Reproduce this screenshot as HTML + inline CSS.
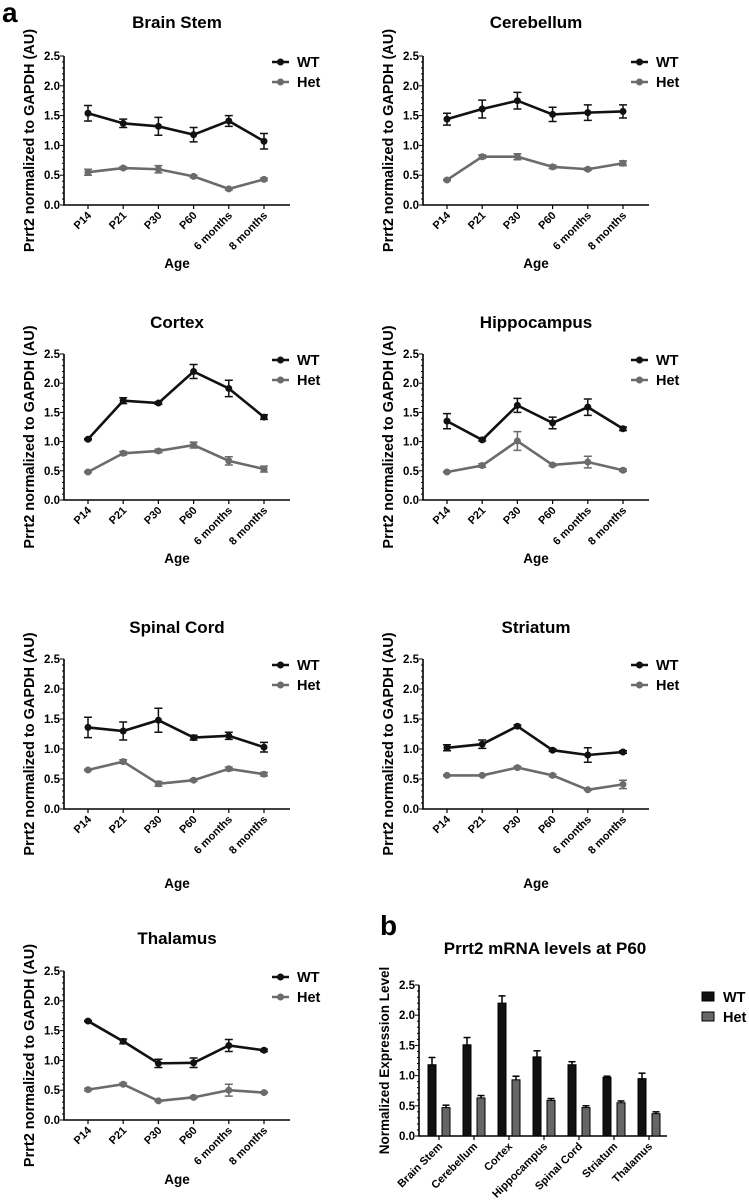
<!DOCTYPE html>
<html><head><meta charset="utf-8"><style>
body{margin:0;background:#fff;}
svg{display:block;font-family:"Liberation Sans",Arial,sans-serif;font-weight:bold;}
</style></head><body>
<svg id="fig" width="749" height="1204" viewBox="0 0 749 1204" xmlns="http://www.w3.org/2000/svg">
<text x="2" y="22" font-size="28">a</text>
<text x="380" y="935" font-size="28">b</text>
</svg>
<script>
const ages = ["P14","P21","P30","P60","6 months","8 months"];
const yTicks = [0,0.5,1.0,1.5,2.0,2.5];
const yTickLabels = ["0.0","0.5","1.0","1.5","2.0","2.5"];
const regionNames = ["Brain Stem","Cerebellum","Cortex","Hippocampus","Spinal Cord","Striatum","Thalamus"];
const wtBrainStem = [1.54,1.37,1.32,1.18,1.41,1.07];
const wtBrainStemErr = [0.13,0.07,0.15,0.12,0.09,0.13];
const hetBrainStem = [0.55,0.62,0.60,0.48,0.27,0.43];
const hetBrainStemErr = [0.05,0.02,0.06,0.02,0.02,0.02];
const wtCerebellum = [1.44,1.61,1.75,1.52,1.55,1.57];
const wtCerebellumErr = [0.10,0.15,0.14,0.12,0.13,0.11];
const hetCerebellum = [0.42,0.81,0.81,0.64,0.60,0.70];
const hetCerebellumErr = [0.01,0.03,0.05,0.03,0.02,0.04];
const wtCortex = [1.04,1.70,1.66,2.20,1.91,1.42];
const wtCortexErr = [0.01,0.05,0.02,0.12,0.14,0.04];
const hetCortex = [0.48,0.80,0.84,0.94,0.67,0.53];
const hetCortexErr = [0.01,0.03,0.03,0.05,0.07,0.05];
const wtHippocampus = [1.35,1.03,1.62,1.32,1.59,1.22];
const wtHippocampusErr = [0.13,0.02,0.12,0.10,0.14,0.03];
const hetHippocampus = [0.48,0.59,1.01,0.60,0.65,0.51];
const hetHippocampusErr = [0.01,0.03,0.16,0.02,0.10,0.02];
const wtSpinalCord = [1.36,1.30,1.48,1.19,1.22,1.03];
const wtSpinalCordErr = [0.17,0.15,0.20,0.04,0.06,0.08];
const hetSpinalCord = [0.65,0.79,0.42,0.48,0.67,0.58];
const hetSpinalCordErr = [0.01,0.03,0.04,0.02,0.03,0.03];
const wtStriatum = [1.02,1.08,1.38,0.98,0.90,0.95];
const wtStriatumErr = [0.05,0.07,0.02,0.02,0.12,0.02];
const hetStriatum = [0.56,0.56,0.69,0.56,0.32,0.41];
const hetStriatumErr = [0.01,0.01,0.02,0.02,0.01,0.07];
const wtThalamus = [1.66,1.32,0.95,0.96,1.25,1.17];
const wtThalamusErr = [0.01,0.04,0.07,0.08,0.10,0.02];
const hetThalamus = [0.51,0.60,0.32,0.38,0.50,0.46];
const hetThalamusErr = [0.02,0.02,0.01,0.02,0.10,0.01];
const barWT = [1.18,1.51,2.20,1.31,1.18,0.97,0.95];
const barWTErr = [0.12,0.12,0.12,0.10,0.05,0.02,0.09];
const barHet = [0.47,0.63,0.93,0.59,0.47,0.55,0.37];
const barHetErr = [0.04,0.04,0.06,0.03,0.03,0.03,0.03];

const svg = document.getElementById('fig');
const NS = "http://www.w3.org/2000/svg";
function mk(tag, attrs, parent){
  const e = document.createElementNS(NS, tag);
  for (const k in attrs) e.setAttribute(k, attrs[k]);
  (parent||svg).appendChild(e);
  return e;
}
const WT = "#111", HET = "#6b6b6b";

const panelWT = [wtBrainStem,wtCerebellum,wtCortex,wtHippocampus,wtSpinalCord,wtStriatum,wtThalamus];
const panelWTErr = [wtBrainStemErr,wtCerebellumErr,wtCortexErr,wtHippocampusErr,wtSpinalCordErr,wtStriatumErr,wtThalamusErr];
const panelHet = [hetBrainStem,hetCerebellum,hetCortex,hetHippocampus,hetSpinalCord,hetStriatum,hetThalamus];
const panelHetErr = [hetBrainStemErr,hetCerebellumErr,hetCortexErr,hetHippocampusErr,hetSpinalCordErr,hetStriatumErr,hetThalamusErr];
const rows = [{top:56,bot:205,age:268,title:28},{top:354,bot:500,age:563,title:328},{top:659,bot:809,age:888,title:633},{top:971,bot:1120,age:1184,title:944}];

function linePanel(i){
  const r = rows[Math.floor(i/2)];
  const off = (i%2)*359;
  const ax = 64+off, axEnd = 290+off, x0 = 88+off, dx = 35.2;
  const g = mk('g',{});
  const slug = regionNames[i].toLowerCase().replace(/ /g,'-');
  
  
  const ys = v => r.bot - v/2.5*(r.bot-r.top);
  const xs = k => x0 + k*dx;
  const t = mk('text',{x:(ax+axEnd)/2,y:r.title,'font-size':17,'text-anchor':'middle'},g);
  t.textContent = regionNames[i];
  
  
  const yl = mk('text',{x:0,y:0,'font-size':14.5,'text-anchor':'middle',transform:`translate(${ax-30},${(r.top+r.bot)/2+10}) rotate(-90)`},g);
  yl.textContent = "Prrt2 normalized to GAPDH (AU)";
  
  
  const al = mk('text',{x:(ax+axEnd)/2,y:r.age,'font-size':13.5,'text-anchor':'middle'},g);
  al.textContent = "Age";
  
  
  const axes = mk('path',{d:`M${ax},${r.top} V${r.bot} H${axEnd}`,stroke:'#000','stroke-width':1.6,fill:'none'},g);
  
  
  for (let v=0; v<=2.5001; v+=0.1){
    const major = Math.abs(v*2-Math.round(v*2))<1e-6;
    mk('line',{x1:ax-(major?4:2),x2:ax,y1:ys(v),y2:ys(v),stroke:'#000','stroke-width':1},g);
  }
  yTicks.forEach((v,k)=>{
    const tl = mk('text',{x:ax-4,y:ys(v)+4,'font-size':11.5,'text-anchor':'end'},g);
    tl.textContent = yTickLabels[k];
    
    
  });
  ages.forEach((a,k)=>{
    mk('line',{x1:xs(k),x2:xs(k),y1:r.bot,y2:r.bot+4,stroke:'#000','stroke-width':1.2},g);
    const tl = mk('text',{x:0,y:0,'font-size':11,'text-anchor':'end',transform:`translate(${xs(k)+4},${r.bot+11}) rotate(-45)`},g);
    tl.textContent = a;
    
    
  });
  [[panelHet[i],panelHetErr[i],HET,'het'],[panelWT[i],panelWTErr[i],WT,'wt']].forEach(([vals,errs,col,nm])=>{
    const pl = mk('polyline',{points:vals.map((v,k)=>xs(k)+','+ys(v)).join(' '),fill:'none',stroke:col,'stroke-width':2.6},g);
    
    
    vals.forEach((v,k)=>{
      const e = errs[k];
      mk('path',{d:`M${xs(k)},${ys(v-e)} V${ys(v+e)} M${xs(k)-4},${ys(v-e)} H${xs(k)+4} M${xs(k)-4},${ys(v+e)} H${xs(k)+4}`,stroke:col,'stroke-width':1.5,fill:'none'},g);
      const c = mk('circle',{cx:xs(k),cy:ys(v),r:3.5,fill:col},g);
      
      
    });
  });
  [['WT',WT,6],['Het',HET,26]].forEach(([lab,col,dy])=>{
    const lg = mk('g',{},g);
    
    
    const ly = r.top+dy;
    mk('line',{x1:ax+208,x2:ax+225,y1:ly,y2:ly,stroke:col,'stroke-width':2.6},lg);
    mk('circle',{cx:ax+216.5,cy:ly,r:3.5,fill:col},lg);
    const lt = mk('text',{x:ax+233,y:ly+5,'font-size':14.5},lg);
    lt.textContent = lab;
  });
}
for (let i=0;i<7;i++) linePanel(i);

// bar chart
(function(){
  const top=985, bot=1136, ax=419, axEnd=667, g0=439, gdx=35, bw=8;
  const ys = v => bot - v/2.5*(bot-top);
  const g = mk('g',{});
  
  
  const t = mk('text',{x:545,y:954,'font-size':17,'text-anchor':'middle'},g);
  t.textContent = "Prrt2 mRNA levels at P60";
  
  
  const yl = mk('text',{x:0,y:0,'font-size':13.5,'text-anchor':'middle',transform:`translate(389,${(top+bot)/2}) rotate(-90)`},g);
  yl.textContent = "Normalized Expression Level";
  
  
  const axes = mk('path',{d:`M${ax},${top} V${bot} H${axEnd}`,stroke:'#000','stroke-width':1.6,fill:'none'},g);
  
  
  for (let v=0; v<=2.5001; v+=0.1){
    const major = Math.abs(v*2-Math.round(v*2))<1e-6;
    mk('line',{x1:ax-(major?4:2),x2:ax,y1:ys(v),y2:ys(v),stroke:'#000','stroke-width':1},g);
  }
  yTicks.forEach((v,k)=>{
    const tl = mk('text',{x:ax-4,y:ys(v)+4,'font-size':11.5,'text-anchor':'end'},g);
    tl.textContent = yTickLabels[k];
    
    
  });
  regionNames.forEach((n,k)=>{
    const cx = g0 + k*gdx;
    mk('line',{x1:cx,x2:cx,y1:bot,y2:bot+4,stroke:'#000','stroke-width':1.2},g);
    const tl = mk('text',{x:0,y:0,'font-size':11,'text-anchor':'end',transform:`translate(${cx+4},${bot+11}) rotate(-45)`},g);
    tl.textContent = n;
    
    
    [[barWT[k],barWTErr[k],WT,cx-7,'bar-wt'],[barHet[k],barHetErr[k],'#666',cx+7,'bar-het']].forEach(([v,e,col,x,nm])=>{
      mk('line',{x1:x,x2:x,y1:ys(v),y2:ys(v+e),stroke:'#000','stroke-width':1.5},g);
      mk('line',{x1:x-3.5,x2:x+3.5,y1:ys(v+e),y2:ys(v+e),stroke:'#000','stroke-width':1.5},g);
      const b = mk('rect',{x:x-bw/2,y:ys(v),width:bw,height:bot-ys(v),fill:col,stroke:'#000','stroke-width':1},g);
      
      
    });
  });
  [['WT',WT,997],['Het','#666',1017]].forEach(([lab,col,y])=>{
    const lg = mk('g',{},g);
    
    
    mk('rect',{x:702,y:y-5,width:12,height:9,fill:col,stroke:'#000','stroke-width':1},lg);
    const lt = mk('text',{x:723,y:y+5,'font-size':14.5},lg);
    lt.textContent = lab;
  });
})();
</script>
</body></html>
